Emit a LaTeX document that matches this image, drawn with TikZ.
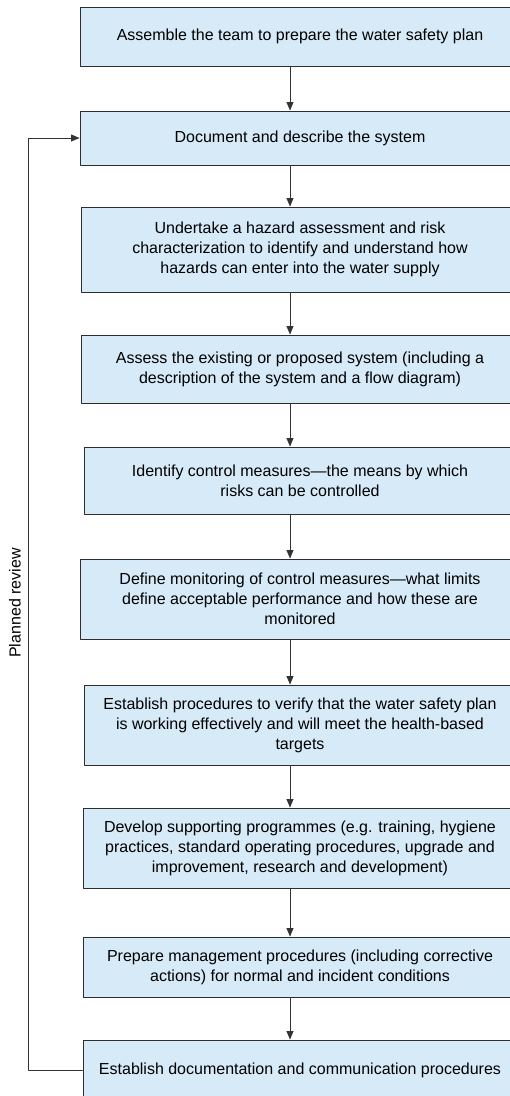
\documentclass[tikz,border=0pt]{standalone}
\usepackage{fontspec}
\setmainfont{Liberation Sans}
\usepackage{tikz}
\usetikzlibrary{arrows}
\definecolor{boxblue}{RGB}{214,234,248}
\definecolor{edgegray}{RGB}{45,45,45}

\begin{document}
\begin{tikzpicture}[line cap=round,line join=round,>=triangle 45,x=1pt,y=-1pt,
    wspbox/.style={draw=edgegray,line width=1pt,fill=boxblue,align=center,inner sep=0pt,
      font=\fontsize{16}{20}\selectfont},
    flow/.style={->,draw=black!80,line width=0.9pt}]
        \useasboundingbox (0,0) rectangle (510,1096);
        \clip (0,0) rectangle (510,1096);
        % the steps of the plan
        \node[wspbox,minimum width=440pt,minimum height=59pt] (team) at (300,36.5) {Assemble the team to prepare the water safety plan};
        \node[wspbox,minimum width=440pt,minimum height=54pt] (describe) at (300,138) {Document and describe the system};
        \node[wspbox,minimum width=438pt,minimum height=85pt] (hazard) at (300,249.5) {Undertake a hazard assessment and risk\\characterization to identify and understand how\\hazards can enter into the water supply};
        \node[wspbox,minimum width=438pt,minimum height=68pt] (assess) at (300,369) {Assess the existing or proposed system (including a\\description of the system and a flow diagram)};
        \node[wspbox,minimum width=432pt,minimum height=67pt] (control) at (300,480.5) {Identify control measures---the means by which\\risks can be controlled};
        \node[wspbox,minimum width=440pt,minimum height=80pt] (monitor) at (300,599) {Define monitoring of control measures---what limits\\define acceptable performance and how these are\\monitored};
        \node[wspbox,minimum width=432pt,minimum height=80pt] (verify) at (300,725) {Establish procedures to verify that the water safety plan\\is working effectively and will meet the health-based\\targets};
        \node[wspbox,minimum width=434pt,minimum height=80pt] (support) at (300,848) {Develop supporting programmes (e.g. training, hygiene\\practices, standard operating procedures, upgrade and\\improvement, research and development)};
        \node[wspbox,minimum width=434pt,minimum height=60pt] (manage) at (300,967) {Prepare management procedures (including corrective\\actions) for normal and incident conditions};
        \node[wspbox,minimum width=434pt,minimum height=60pt] (communicate) at (300,1070) {Establish documentation and communication procedures};
        % arrows between the steps
        \foreach \a/\b in {team/describe,describe/hazard,hazard/assess,assess/control,control/monitor,monitor/verify,verify/support,support/manage,manage/communicate}
        \draw[flow] ([xshift=-10pt]\a.south) -- ([xshift=-10pt]\b.north);
        % review loop
        \draw[flow] (communicate.west) -- ++(-54,0) |- (describe.west);
        \node[rotate=90,font=\fontsize{16}{20}\selectfont] (review) at (15,603) {Planned review};
      \end{tikzpicture}
\end{document}
